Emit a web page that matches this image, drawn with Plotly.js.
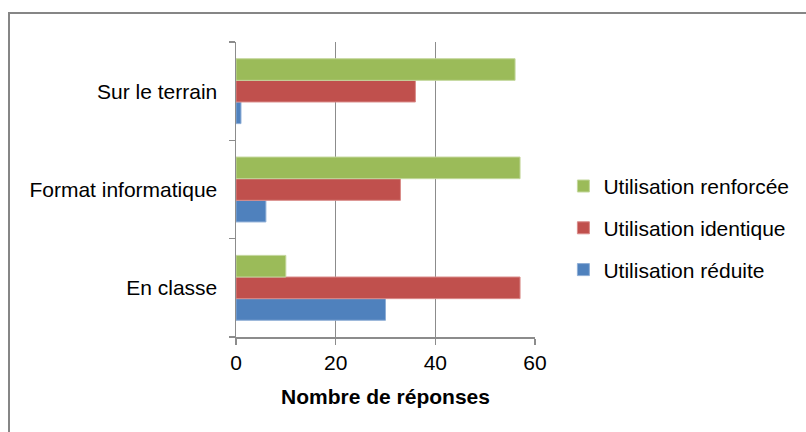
<!DOCTYPE html>
<html>
<head>
<meta charset="utf-8">
<script src="https://cdn.plot.ly/plotly-3.0.1.min.js"></script>
<style>
  html, body { margin: 0; padding: 0; width: 806px; height: 432px; overflow: hidden; background: #fff; }
  #frame { position: absolute; left: 8px; top: 12px; width: 830px; height: 450px; border-left: 2px solid #868686; border-top: 2px solid #868686; box-sizing: border-box; pointer-events: none; z-index: 2; }
  #chart { position: absolute; left: 0; top: 0; width: 806px; height: 432px; }
</style>
</head>
<body>
<div id="chart"></div>
<div id="frame"></div>
<script>
const categories = ["En classe", "Format informatique", "Sur le terrain"];
const seriesNames = ["Utilisation réduite", "Utilisation identique", "Utilisation renforcée"];
const reduite = [30, 6, 1];
const identique = [57, 33, 36];
const renforcee = [10, 57, 56];
const xTicks = [0, 20, 40, 60];
const colors = ["#4F81BD", "#C0504D", "#9BBB59"];
const edgeColors = ["#8eaed6", "#d98b89", "#c3d79c"];

const values = [reduite, identique, renforcee];
const traces = values.map((v, i) => ({
  type: "bar",
  orientation: "h",
  name: seriesNames[i],
  y: categories,
  x: v,
  legendgroup: "g" + i,
  legendrank: 1000 - i,
  marker: { color: colors[i], line: { color: edgeColors[i], width: 1 } },
  hoverinfo: "x+name"
}));

const font = { family: "Liberation Sans, Arial, sans-serif", size: 21, color: "#000" };

const layout = {
  width: 806, height: 432,
  margin: { l: 235.5, r: 270.5, t: 42, b: 95 },
  paper_bgcolor: "#fff", plot_bgcolor: "#fff",
  font: font,
  barmode: "group",
  bargap: 0.34,
  bargroupgap: 0,
  showlegend: true,
  legend: {
    traceorder: "grouped",
    tracegroupgap: 11.5,
    x: 1.095, xanchor: "left",
    y: 0.37, yanchor: "middle",
    font: font,
    bgcolor: "rgba(0,0,0,0)"
  },
  xaxis: {
    range: [0, 60],
    tickvals: xTicks,
    ticktext: xTicks.map(String),
    showgrid: true, gridcolor: "#8c8c8c", gridwidth: 1.5,
    zeroline: false,
    showline: true, linecolor: "#8c8c8c", linewidth: 1.5,
    ticks: "outside", ticklen: 6, tickcolor: "#8c8c8c", tickwidth: 1.5,
    ticklabelstandoff: 0,
    tickfont: font,
    title: { text: "<b>Nombre de réponses</b>", font: font, standoff: 16 },
    fixedrange: true
  },
  yaxis: {
    type: "category",
    categoryorder: "array", categoryarray: categories,
    showgrid: false, zeroline: false,
    showline: true, linecolor: "#8c8c8c", linewidth: 1.5,
    ticks: "outside", tickson: "boundaries", ticklen: 6, tickcolor: "#8c8c8c", tickwidth: 1.5,
    ticklabelstandoff: 13,
    tickfont: font,
    fixedrange: true
  }
};

Plotly.newPlot("chart", traces, layout, { displayModeBar: false, staticPlot: true });
</script>
</body>
</html>
